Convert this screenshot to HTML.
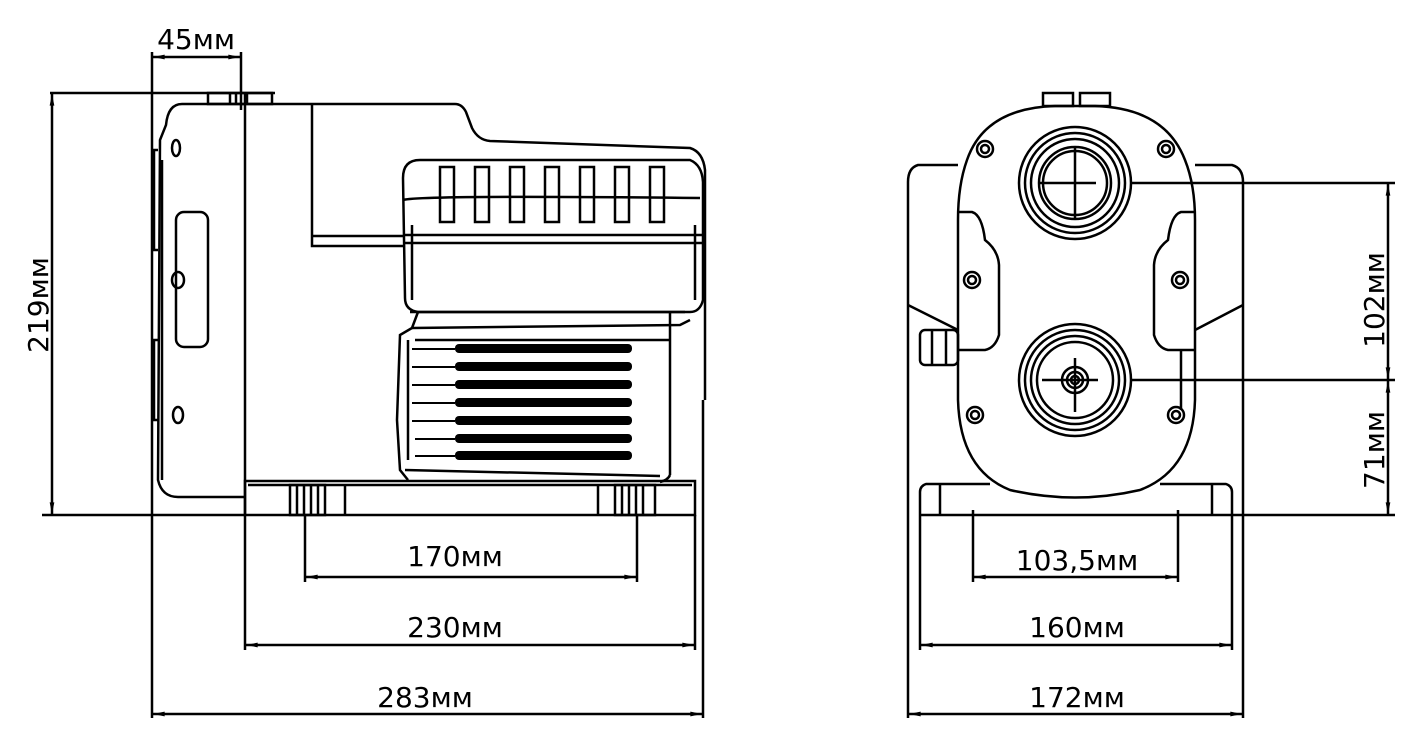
<!DOCTYPE html>
<html><head><meta charset="utf-8"><style>
html,body{margin:0;padding:0;background:#fff;}
svg{display:block;}
text{font-family:"DejaVu Sans","Liberation Sans",sans-serif;font-size:28px;fill:#000;}
</style></head><body>
<svg width="1425" height="731" viewBox="0 0 1425 731" xmlns="http://www.w3.org/2000/svg">
<defs>
<marker id="a" viewBox="0 0 10 6" refX="10" refY="3" markerWidth="12" markerHeight="7" orient="auto-start-reverse" markerUnits="userSpaceOnUse"><path d="M0,1 L10,3 L0,5z" fill="#000"/></marker>
</defs>
<g fill="none" stroke="#000" stroke-width="2.5">
<line x1="152" y1="52" x2="152" y2="718"/>
<line x1="241" y1="52" x2="241" y2="110"/>
<line x1="153" y1="57" x2="240" y2="57" marker-start="url(#a)" marker-end="url(#a)"/>
<line x1="50" y1="93" x2="275" y2="93"/>
<line x1="42" y1="515" x2="245" y2="515"/>
<line x1="52" y1="94" x2="52" y2="514" marker-start="url(#a)" marker-end="url(#a)"/>
<line x1="305" y1="515" x2="305" y2="582"/>
<line x1="637" y1="515" x2="637" y2="582"/>
<line x1="306" y1="577" x2="636" y2="577" marker-start="url(#a)" marker-end="url(#a)"/>
<line x1="245" y1="515" x2="245" y2="650"/>
<line x1="695" y1="515" x2="695" y2="650"/>
<line x1="246" y1="645" x2="694" y2="645" marker-start="url(#a)" marker-end="url(#a)"/>
<line x1="703" y1="400" x2="703" y2="718"/>
<line x1="153" y1="714" x2="702" y2="714" marker-start="url(#a)" marker-end="url(#a)"/>
<rect x="208" y="93" width="64" height="11"/>
<line x1="230" y1="93" x2="230" y2="104"/><line x1="236" y1="93" x2="236" y2="104"/><line x1="247" y1="93" x2="247" y2="104"/>
<path d="M245,104 L182,104 Q168,104 166,125 L160,140 L158,480 Q162,497 178,497 L245,497"/>
<path d="M158,150 L154,150 L154,250 L158,250 M158,340 L154,340 L154,420 L158,420"/>
<path d="M162,160 L162,480"/>
<rect x="176" y="212" width="32" height="135" rx="8"/>
<ellipse cx="176" cy="148" rx="4" ry="8"/>
<ellipse cx="178" cy="280" rx="6" ry="8"/>
<ellipse cx="178" cy="415" rx="5" ry="8"/>
<line x1="245" y1="93" x2="245" y2="515"/>
<path d="M245,104 L455,104 Q462,104 466,112 L472,128 Q478,140 490,141 L690,148 Q703,152 705,170 L705,400"/>
<path d="M312,104 L312,246 L405,246"/>
<line x1="312" y1="236" x2="405" y2="236"/>
<path d="M403,178 Q403,160 420,160 L690,160 Q702,165 703,182 L703,300 Q700,312 690,312 L418,312 Q405,310 405,298 Z"/>
<path d="M403,200 Q420,195 700,198"/>
<line x1="412" y1="225" x2="412" y2="300"/><line x1="695" y1="225" x2="695" y2="300"/>
<line x1="405" y1="235" x2="703" y2="235"/>
<line x1="405" y1="243" x2="703" y2="243"/>
<line x1="410" y1="312" x2="685" y2="312"/>
<rect x="440" y="167" width="14" height="55"/><rect x="475" y="167" width="14" height="55"/><rect x="510" y="167" width="14" height="55"/><rect x="545" y="167" width="14" height="55"/><rect x="580" y="167" width="14" height="55"/><rect x="615" y="167" width="14" height="55"/><rect x="650" y="167" width="14" height="55"/>
<path d="M418,312 L412,328 L400,335 L397,420 L400,470 L408,480"/>
<path d="M412,328 L680,325 L690,320"/>
<line x1="415" y1="340" x2="670" y2="340"/>
<line x1="670" y1="312" x2="670" y2="475"/>
<path d="M670,475 Q668,480 660,482"/>
<line x1="405" y1="470" x2="660" y2="476"/>
<line x1="408" y1="340" x2="408" y2="460"/>
</g>
<g fill="#000">
<rect x="455" y="344" width="177" height="9" rx="4"/>
<rect x="455" y="362" width="177" height="9" rx="4"/>
<rect x="455" y="380" width="177" height="9" rx="4"/>
<rect x="455" y="398" width="177" height="9" rx="4"/>
<rect x="455" y="416" width="177" height="9" rx="4"/>
<rect x="455" y="434" width="177" height="9" rx="4"/>
<rect x="455" y="451" width="177" height="9" rx="4"/>
</g>
<g stroke="#000" stroke-width="2">
<line x1="412" y1="349" x2="455" y2="349"/><line x1="412" y1="367" x2="455" y2="367"/><line x1="412" y1="385" x2="455" y2="385"/><line x1="412" y1="403" x2="455" y2="403"/><line x1="412" y1="421" x2="455" y2="421"/><line x1="415" y1="439" x2="455" y2="439"/><line x1="415" y1="456" x2="455" y2="456"/>
</g>
<g fill="none" stroke="#000" stroke-width="2.5">
<rect x="245" y="481" width="450" height="34"/>
<line x1="248" y1="485" x2="692" y2="485"/>
<rect x="290" y="485" width="35" height="30"/>
<line x1="297" y1="485" x2="297" y2="515"/><line x1="304" y1="485" x2="304" y2="515"/><line x1="311" y1="485" x2="311" y2="515"/><line x1="318" y1="485" x2="318" y2="515"/>
<line x1="345" y1="485" x2="345" y2="515"/><line x1="598" y1="485" x2="598" y2="515"/>
<rect x="615" y="485" width="40" height="30"/>
<line x1="622" y1="485" x2="622" y2="515"/><line x1="629" y1="485" x2="629" y2="515"/><line x1="636" y1="485" x2="636" y2="515"/><line x1="643" y1="485" x2="643" y2="515"/>

<rect x="1043" y="93" width="30" height="13"/><rect x="1080" y="93" width="30" height="13"/>
<path d="M958,165 L918,165 Q908,168 908,182 L908,718"/>
<path d="M1195,165 L1232,165 Q1243,168 1243,182 L1243,718"/>
<path d="M908,305 L958,330 M1243,305 L1195,330"/>
<path d="M1055,106 Q985,108 967,160 Q958,185 958,220 L958,400 Q960,470 1010,490 Q1075,505 1140,490 Q1193,470 1195,400 L1195,220 Q1195,185 1185,160 Q1165,108 1095,106 Z"/>
<path d="M958,212 L972,212 Q982,215 985,240 Q998,250 999,265 L999,335 Q995,348 985,350 L958,350"/>
<path d="M1195,212 L1181,212 Q1171,215 1168,240 Q1155,250 1154,265 L1154,335 Q1158,348 1168,350 L1195,350"/>
<line x1="1181" y1="350" x2="1181" y2="410"/>
<rect x="920" y="330" width="38" height="35" rx="5"/>
<line x1="932" y1="330" x2="932" y2="365"/><line x1="946" y1="330" x2="946" y2="365"/>
<circle cx="1075" cy="183" r="56"/><circle cx="1075" cy="183" r="50"/><circle cx="1075" cy="183" r="44"/><circle cx="1075" cy="183" r="36"/><circle cx="1075" cy="183" r="32"/>
<line x1="1040" y1="183" x2="1096" y2="183"/><line x1="1075" y1="148" x2="1075" y2="220"/>
<circle cx="1075" cy="380" r="56"/><circle cx="1075" cy="380" r="50"/><circle cx="1075" cy="380" r="44"/><circle cx="1075" cy="380" r="38"/><circle cx="1075" cy="380" r="13"/><circle cx="1075" cy="380" r="8"/><circle cx="1075" cy="380" r="4"/>
<line x1="1042" y1="380" x2="1098" y2="380"/><line x1="1075" y1="358" x2="1075" y2="412"/>
<circle cx="985" cy="149" r="8"/><circle cx="985" cy="149" r="4"/>
<circle cx="1166" cy="149" r="8"/><circle cx="1166" cy="149" r="4"/>
<circle cx="972" cy="280" r="8"/><circle cx="972" cy="280" r="4"/>
<circle cx="1180" cy="280" r="8"/><circle cx="1180" cy="280" r="4"/>
<circle cx="975" cy="415" r="8"/><circle cx="975" cy="415" r="4"/>
<circle cx="1176" cy="415" r="8"/><circle cx="1176" cy="415" r="4"/>
<path d="M990,484 L926,484 Q920,486 920,492 L920,515 M1160,484 L1226,484 Q1232,486 1232,492 L1232,515"/>
<line x1="920" y1="515" x2="1240" y2="515"/>
<line x1="940" y1="484" x2="940" y2="515"/><line x1="1212" y1="484" x2="1212" y2="515"/>
<line x1="1132" y1="183" x2="1395" y2="183"/>
<line x1="1132" y1="380" x2="1395" y2="380"/>
<line x1="1240" y1="515" x2="1395" y2="515"/>
<line x1="1388" y1="184" x2="1388" y2="379" marker-start="url(#a)" marker-end="url(#a)"/>
<line x1="1388" y1="381" x2="1388" y2="514" marker-start="url(#a)" marker-end="url(#a)"/>
<line x1="973" y1="510" x2="973" y2="582"/><line x1="1178" y1="510" x2="1178" y2="582"/>
<line x1="974" y1="577" x2="1177" y2="577" marker-start="url(#a)" marker-end="url(#a)"/>
<line x1="920" y1="515" x2="920" y2="650"/><line x1="1232" y1="515" x2="1232" y2="650"/>
<line x1="921" y1="645" x2="1231" y2="645" marker-start="url(#a)" marker-end="url(#a)"/>
<line x1="909" y1="714" x2="1242" y2="714" marker-start="url(#a)" marker-end="url(#a)"/>
</g>
<g text-anchor="middle">
<text x="196" y="49">45мм</text>
<text x="455" y="566">170мм</text>
<text x="455" y="637">230мм</text>
<text x="425" y="707">283мм</text>
<text x="1077" y="570">103,5мм</text>
<text x="1077" y="637">160мм</text>
<text x="1077" y="707">172мм</text>
<text transform="translate(48,305) rotate(-90)">219мм</text>
<text transform="translate(1384,300) rotate(-90)">102мм</text>
<text transform="translate(1384,450) rotate(-90)">71мм</text>
</g>
</svg>
</body></html>
